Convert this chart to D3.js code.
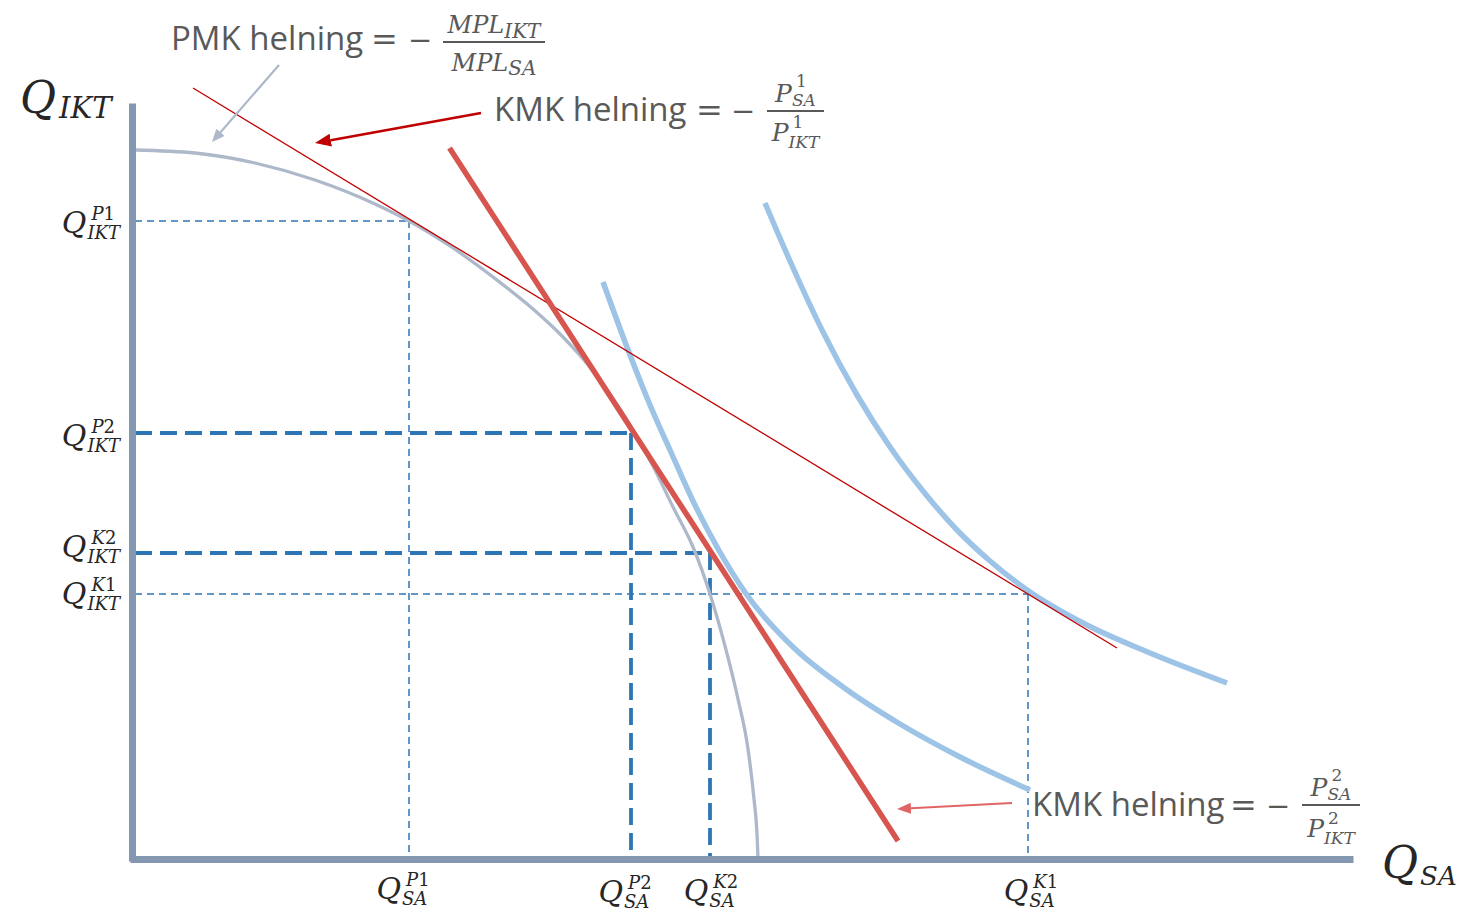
<!DOCTYPE html>
<html><head><meta charset="utf-8">
<script src="https://cdn.jsdelivr.net/npm/d3@7"></script>
<style>body{margin:0;background:#fff} svg{display:block}</style>
</head><body>
<svg id="c" width="1458" height="912"></svg>
<script>
// ---------- DATA (arbitrary quantity units: Q_SA, Q_IKT) ----------
const ppf = [[0.2,70.9],[6.2,70.6],[12.2,69.6],[18.2,67.9],[24.2,65.5],[27.6,63.8],[32,61.1],[36,58.2],[40,55.0],[43,52.2],[46,48.8],[48.5,45.3],[50,42.9],[52,39.3],[54,35.2],[56,31.2],[57.7,26.5],[59.2,21.3],[60.5,16.0],[61.5,11.0],[62.1,6.0],[62.4,2.5],[62.5,0.1]];
const indiff1 = [[47.0,57.7],[49.7,50.4],[51.7,45.4],[53.7,40.9],[56.0,35.8],[58.4,31.2],[61.4,26.4],[66.0,21.2],[71.0,17.2],[76.7,13.5],[82.7,10.2],[89.7,6.9]];
const indiff2 = [[63.2,65.6],[65.7,59.8],[69.0,52.7],[72.4,46.4],[75.7,41.2],[79.0,36.8],[82.4,32.9],[85.7,29.8],[89.7,26.7],[95.0,23.6],[101.7,20.6],[109.4,17.6]];
const priceLine1 = [[6.0,77.1],[98.4,21.1]];
const priceLine2 = [[31.65,71.1],[76.5,1.8]];
const pointNames = ["P1","P2","K2","K1"];
const pointQSA  = [27.6, 49.8, 57.7, 89.5];
const pointQIKT = [63.8, 42.6, 30.6, 26.5];
const arrowFrom = [[14.6,79.4],[34.8,74.6],[87.9,5.6]];
const arrowTo   = [[7.9,71.7],[18.2,71.6],[76.4,5.0]];
const axisTitles = {x:["Q","SA"], y:["Q","IKT"]};

// ---------- SCALES ----------
const x = d3.scaleLinear().domain([0,132.5]).range([133,1458]);
const y = d3.scaleLinear().domain([0,85.9]).range([859,0]);

const svg = d3.select("#c");
const MATH = "'DejaVu Serif','Liberation Serif',serif";
const SANS = "'Open Sans','Liberation Sans',sans-serif";
const TXT = "#595959", DARK = "#262626";

// guide lines
const guideStyle = {P1:"thin",P2:"thick",K2:"thick",K1:"thin"};
const gGuides = svg.append("g");
pointNames.forEach((n,i)=>{
  const thick = guideStyle[n]==="thick";
  const st = s => s.attr("stroke","#2e75b6").attr("stroke-width", thick?3.8:1.5)
                   .attr("stroke-dasharray", thick?"17,8":"7,5").attr("fill","none");
  st(gGuides.append("line").attr("x1",x(0.2)).attr("x2",x(pointQSA[i])).attr("y1",y(pointQIKT[i])).attr("y2",y(pointQIKT[i])));
  st(gGuides.append("line").attr("x1",x(pointQSA[i])).attr("x2",x(pointQSA[i])).attr("y1",y(pointQIKT[i])).attr("y2",y(0)));
});

const smooth = d3.line().x(d=>x(d[0])).y(d=>y(d[1])).curve(d3.curveMonotoneX);
const straight = d3.line().x(d=>x(d[0])).y(d=>y(d[1]));

svg.append("path").datum(ppf).attr("d",smooth).attr("fill","none").attr("stroke","#adb9ca").attr("stroke-width",3.3);
svg.append("path").datum(indiff1).attr("d",smooth).attr("fill","none").attr("stroke","#9dc3e6").attr("stroke-width",5.5);
svg.append("path").datum(indiff2).attr("d",smooth).attr("fill","none").attr("stroke","#9dc3e6").attr("stroke-width",5.5);
svg.append("path").datum(priceLine1).attr("d",straight).attr("fill","none").attr("stroke","#c00000").attr("stroke-width",1.3);
svg.append("path").datum(priceLine2).attr("d",straight).attr("fill","none").attr("stroke","#d6564f").attr("stroke-width",5.5);

// axes
const xa = x.copy().domain([-0.3,122]).range([x(-0.3),x(122)]);
const ya = y.copy().domain([-0.2,75.6]).range([y(-0.2),y(75.6)]);
const gx = svg.append("g").attr("transform",`translate(0,${y(0)})`).call(d3.axisBottom(xa).tickValues([]).tickSizeOuter(0));
const gy = svg.append("g").attr("transform",`translate(${x(-0.1)},0)`).call(d3.axisLeft(ya).tickValues([]).tickSizeOuter(0));
[gx,gy].forEach(g=>g.select(".domain").attr("stroke","#8497b0").attr("stroke-width",7));

// arrows
const defs = svg.append("defs");
const arrowStyle = [{c:"#adb9ca",w:2.2,hl:13,hw:11},{c:"#c00000",w:2.6,hl:16,hw:13},{c:"#e06666",w:2,hl:14,hw:11}];
arrowStyle.forEach((s,i)=>{
  defs.append("marker").attr("id","ah"+i).attr("viewBox",`0 0 ${s.hl} ${s.hw}`).attr("refX",0).attr("refY",s.hw/2)
    .attr("markerWidth",s.hl).attr("markerHeight",s.hw).attr("markerUnits","userSpaceOnUse").attr("orient","auto")
    .append("path").attr("d",`M0,0L${s.hl},${s.hw/2}L0,${s.hw}Z`).attr("fill",s.c);
  const x1=x(arrowFrom[i][0]), y1=y(arrowFrom[i][1]), x2=x(arrowTo[i][0]), y2=y(arrowTo[i][1]);
  const L=Math.hypot(x2-x1,y2-y1), k=(L-s.hl)/L;
  svg.append("line").attr("x1",x1).attr("y1",y1).attr("x2",x1+(x2-x1)*k).attr("y2",y1+(y2-y1)*k)
    .attr("stroke",s.c).attr("stroke-width",s.w).attr("marker-end",`url(#ah${i})`);
});

// text with italic letters and upright digits
function mathText(g, x0, b, str, size, color){
  const t = g.append("text").attr("x",x0).attr("y",b).attr("font-family",MATH).attr("font-size",size).attr("fill",color);
  (str.match(/[0-9]+|[^0-9]+/g)||[]).forEach(part=>{
    t.append("tspan").attr("font-style", /[0-9]/.test(part)?"normal":"italic").text(part);
  });
  return t.node().getComputedTextLength();
}
// base with optional superscript / subscript
function term(g, x0, b, base, sup, sub, o){
  const w = mathText(g, x0, b, base, o.fs, o.color);
  let extra = 0;
  if(sup){
    const dx = o.supDx ?? 6;
    extra = Math.max(extra, dx + mathText(g, x0+w+dx, b-o.supUp, sup, o.ss, o.color));
  }
  if(sub){
    const dx = o.subDx ?? 1;
    extra = Math.max(extra, dx + mathText(g, x0+w+dx, b+o.subDown, sub, o.ss, o.color));
  }
  return w+extra;
}

// axis titles
term(svg, 20, 113, axisTitles.y[0], null, axisTitles.y[1], {fs:44,ss:29,subDown:5,subDx:3,color:DARK});
term(svg, 1382, 878, axisTitles.x[0], null, axisTitles.x[1], {fs:44,ss:26,subDown:7,subDx:2,color:DARK});

// tick labels
const xNudge = {P1:-6,P2:-6,K2:1,K1:3}, xBase = {P1:899,P2:902,K2:901,K1:901};
const yNudge = {P1:12,P2:13,K2:4,K1:10};
const tickOpt = {fs:30,ss:18,supUp:13,subDown:6,supDx:5,subDx:1,color:DARK};
pointNames.forEach((n,i)=>{
  const g = svg.append("g");
  const w = term(g, 0, 0, "Q", n, "SA", tickOpt);
  g.attr("transform",`translate(${x(pointQSA[i])+xNudge[n]-w/2},${xBase[n]})`);
  const g2 = svg.append("g");
  const w2 = term(g2, 0, 0, "Q", n, "IKT", tickOpt);
  g2.attr("transform",`translate(${120-w2},${y(pointQIKT[i])+yNudge[n]})`);
});

// annotations: "… helning = − fraction"
function eqLabel(label, tx, b, eqX, minX, barX, barW, barY, num, den){
  svg.append("text").attr("x",tx).attr("y",b).attr("font-family",SANS).attr("font-size",33).attr("fill",TXT).text(label);
  svg.append("text").attr("x",eqX).attr("y",b).attr("font-family",MATH).attr("font-size",32).attr("fill",TXT).text("=");
  svg.append("text").attr("x",minX).attr("y",b).attr("font-family",MATH).attr("font-size",29).attr("fill",TXT).text("\u2212");
  svg.append("line").attr("x1",barX).attr("x2",barX+barW).attr("y1",barY).attr("y2",barY).attr("stroke",TXT).attr("stroke-width",2);
  [num,den].forEach(p=>{
    const g = svg.append("g");
    const w = term(g,0,0,p.base,p.sup,p.sub,Object.assign({color:TXT},p.o));
    g.attr("transform",`translate(${barX+(barW-w)/2},${p.b})`);
  });
}
eqLabel("PMK helning",171,50,371,408,443,102,42,
  {base:"MPL",sup:null,sub:"IKT",b:33,o:{fs:24,ss:20,subDown:5,subDx:0}},
  {base:"MPL",sup:null,sub:"SA",b:71,o:{fs:24,ss:20,subDown:4,subDx:0}});
eqLabel("KMK helning",494,121,696,731,767,57,111,
  {base:"P",sup:"1",sub:"SA",b:102,o:{fs:25,ss:17,supUp:15,subDown:4,supDx:4,subDx:0}},
  {base:"P",sup:"1",sub:"IKT",b:141,o:{fs:25,ss:17,supUp:13,subDown:7,supDx:4,subDx:0}});
eqLabel("KMK helning",1032,816,1230,1266,1302,58,805,
  {base:"P",sup:"2",sub:"SA",b:796,o:{fs:25,ss:17,supUp:15,subDown:4,supDx:4,subDx:0}},
  {base:"P",sup:"2",sub:"IKT",b:837,o:{fs:25,ss:17,supUp:13,subDown:7,supDx:4,subDx:0}});
</script>
</body></html>
